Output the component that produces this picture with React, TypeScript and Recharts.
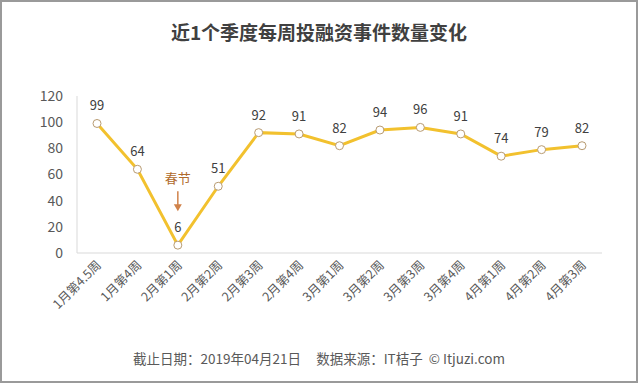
import React from "react";
import { LineChart, Line, XAxis, YAxis, LabelList } from "recharts";

const weeks = [
  "1月第4.5周", "1月第4周", "2月第1周", "2月第2周", "2月第3周", "2月第4周", "3月第1周",
  "3月第2周", "3月第3周", "3月第4周", "4月第1周", "4月第2周", "4月第3周",
];
const counts = [99, 64, 6, 51, 92, 91, 82, 94, 96, 91, 74, 79, 82];
const yTicks = [0, 20, 40, 60, 80, 100, 120];
const noteIndex = 2;
const noteText = "春节";

const data = weeks.map((w, i) => ({ week: w, count: counts[i] }));

const FONT = '"Noto Sans CJK SC", "Microsoft YaHei", sans-serif';

function WeekTick(props: any) {
  const { x, y, payload } = props;
  return (
    <text
      x={x}
      y={y}
      transform={`rotate(-45 ${x} ${y})`}
      textAnchor="end"
      dy={7}
      fontSize={12.5}
      fill="#595959"
      fontFamily={FONT}
    >
      {payload.value}
    </text>
  );
}

function ValueLabel(props: any) {
  const { x, y, value, index } = props;
  return (
    <g>
      <text x={x} y={y - 13} textAnchor="middle" fontSize={13} fill="#404040" fontFamily={FONT}>
        {value}
      </text>
      {index === noteIndex && (
        <g>
          <text x={x} y={y - 62} textAnchor="middle" fontSize={13} fill="#b06a2c" fontFamily={FONT}>
            {noteText}
          </text>
          <line x1={x} y1={y - 54} x2={x} y2={y - 40} stroke="#d0824a" strokeWidth={1.5} />
          <path d={`M${x - 4},${y - 41} L${x + 4},${y - 41} L${x},${y - 34} Z`} fill="#d0824a" />
        </g>
      )}
    </g>
  );
}

export default function App() {
  return (
    <div style={{ position: "relative", width: 638, height: 383, background: "#fff", fontFamily: FONT }}>
      <style>{"body{margin:0}"}</style>
      <div
        style={{
          position: "absolute",
          top: 18,
          left: 0,
          width: 638,
          textAlign: "center",
          fontSize: 19,
          fontWeight: 700,
          color: "#404040",
        }}
      >
        近1个季度每周投融资事件数量变化
      </div>
      <LineChart width={638} height={383} data={data} margin={{ top: 96, right: 36, left: 0, bottom: 0 }}>
        <XAxis
          dataKey="week"
          height={130}
          interval={0}
          padding={{ left: 20, right: 20 }}
          tickLine={false}
          axisLine={{ stroke: "#d9d9d9" }}
          tick={<WeekTick />}
        />
        <YAxis
          width={77}
          domain={[0, 120]}
          ticks={yTicks}
          tickLine={false}
          axisLine={{ stroke: "#d9d9d9" }}
          tick={{ fontSize: 14, fill: "#595959", fontFamily: FONT }}
          tickMargin={8}
        />
        <Line
          type="linear"
          dataKey="count"
          stroke="#f2c12e"
          strokeWidth={3}
          dot={{ r: 4, fill: "#fff", stroke: "#b89b72", strokeWidth: 1 }}
          isAnimationActive={false}
        >
          <LabelList dataKey="count" content={<ValueLabel />} />
        </Line>
      </LineChart>
      <div
        style={{
          position: "absolute",
          top: 348,
          left: 0,
          width: 638,
          textAlign: "center",
          fontSize: 13.5,
          color: "#595959",
          whiteSpace: "pre",
        }}
      >
        {"截止日期：2019年04月21日     数据来源：IT桔子  © Itjuzi.com"}
      </div>
      <div
        style={{
          position: "absolute",
          inset: 0,
          border: "2px solid #9a9a9a",
          pointerEvents: "none",
        }}
      />
    </div>
  );
}
